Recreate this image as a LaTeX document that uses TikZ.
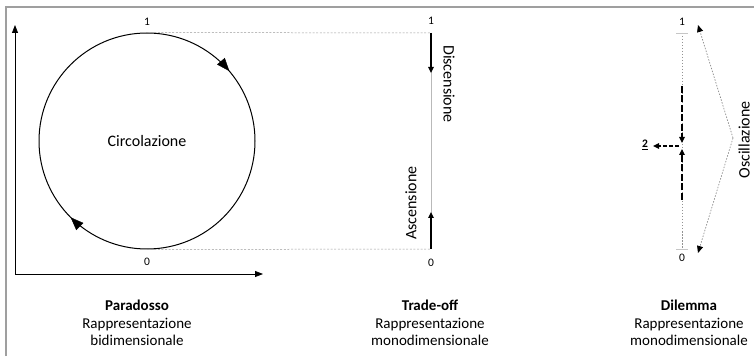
\documentclass[tikz,border=0pt]{standalone}
\usepackage{fontspec}
\setmainfont{Carlito}
\usetikzlibrary{arrows.meta,decorations.markings}
\begin{document}
\begin{tikzpicture}[x=1pt,y=1pt,
  framestyle/.style={draw=gray!75, line width=1.1pt},
  axisline/.style={line width=0.8pt, -{Triangle[length=8pt,width=6pt]}},
  guide/.style={draw=gray!80, line width=0.5pt, dash pattern=on 2pt off 1.6pt},
  railline/.style={draw=gray!55, line width=0.7pt},
  pushline/.style={line width=1.5pt, -{Triangle[length=6pt,width=5.5pt]}},
  dotrail/.style={draw=gray!85, line width=0.6pt, dash pattern=on 1.5pt off 1.5pt},
  tickmark/.style={draw=gray!45, line width=0.8pt},
  dashpush/.style={line width=1.7pt, dash pattern=on 7pt off 2.5pt, -{Triangle[length=6pt,width=5.5pt]}},
  sidepush/.style={line width=1.3pt, dash pattern=on 4pt off 2pt, -{Triangle[length=6pt,width=5.5pt]}},
  swing/.style={draw=gray!90, line width=0.7pt, dash pattern=on 1.5pt off 1.5pt, -{Triangle[length=7pt,width=6pt,black]}},
  endlabel/.style={font=\fontsize{11.5}{13}\selectfont, inner sep=0pt},
  movelabel/.style={font=\fontsize{16}{19}\selectfont, inner sep=0pt},
  caption/.style={align=center, font=\fontsize{15}{17.5}\selectfont, inner sep=0pt}
]
\useasboundingbox (0,0) rectangle (754,356);

% outer frame (top and left edges)
\draw[framestyle] (6,0) -- (6,349) -- (754,349);

% --- Paradosso: two-dimensional view ---
\coordinate (origin) at (15,82);
\coordinate (yend) at (15,331);
\coordinate (xend) at (263,82);
\draw[axisline] (origin) -- (yend);
\draw[axisline] (origin) -- (xend);

\node[circle, draw, line width=1pt, minimum size=216pt, inner sep=0pt,
      font=\fontsize{16}{19}\selectfont] (circ) at (147,215) {Circolazione};
\path[decoration={markings,
        mark=at position 0.112 with {\arrowreversed{Triangle[length=13pt,width=10pt]}},
        mark=at position 0.625 with {\arrowreversed{Triangle[length=13pt,width=10pt]}}},
      decorate] (147,215) circle (108);
\node[endlabel] (ptop) at (147,334) {1};
\node[endlabel] (pbot) at (147,94) {0};

% --- Trade-off: one-dimensional view ---
\coordinate (t1) at (431,323);
\coordinate (t0) at (431,107);
\coordinate (tdown) at (431,283);
\coordinate (tup) at (431,144);
\draw[guide] (circ.north) -- (t1);
\draw[guide] (circ.south) -- (t0);
\draw[railline] (t1) -- (t0);
\draw[pushline] (t1) -- (tdown);
\draw[pushline] (t0) -- (tup);
\node[endlabel] (ttop) at (431,335) {1};
\node[endlabel] (tbot) at (431,93) {0};
\node[movelabel, rotate=-90] (disc) at (449,272) {Discensione};
\node[movelabel, rotate=90] (asc) at (411,153) {Ascensione};

% --- Dilemma: one-dimensional view ---
\coordinate (d1) at (682,323);
\coordinate (d0) at (682,107);
\coordinate (dhigh) at (682,270);
\coordinate (dlow) at (682,156);
\coordinate (dmidtop) at (682,213);
\coordinate (dmidbot) at (682,207);
\coordinate (dside) at (679,210);
\draw[dotrail] (d1) -- (d0);
\draw[tickmark] (676,323) -- (688,323);
\draw[tickmark] (676,107) -- (688,107);
\draw[dashpush] (dhigh) -- (dmidtop);
\draw[dashpush] (dlow) -- (dmidbot);
\node[font=\fontsize{11.5}{13}\selectfont\bfseries, inner sep=0pt] (two) at (645,211) {\underline{2}};
\coordinate (sidetip) at ([xshift=5pt]two.east |- dside);
\draw[sidepush] (dside) -- (sidetip);
\node[endlabel] (dtop) at (682,334) {1};
\node[endlabel] (dbot) at (682,98) {0};

\coordinate (apex) at (733,218);
\coordinate (swingtop) at (698,331);
\coordinate (swingbot) at (698,103);
\draw[swing] (apex) -- (swingtop);
\draw[swing] (apex) -- (swingbot);
\node[movelabel, rotate=90] (osc) at (744,216) {Oscillazione};

% --- captions ---
\node[caption] (cap1) at (137,33) {\textbf{Paradosso}\\Rappresentazione\\bidimensionale};
\node[caption] (cap2) at (430,33) {\textbf{Trade-off}\\Rappresentazione\\monodimensionale};
\node[caption] (cap3) at (689,33) {\textbf{Dilemma}\\Rappresentazione\\monodimensionale};
\end{tikzpicture}
\end{document}
